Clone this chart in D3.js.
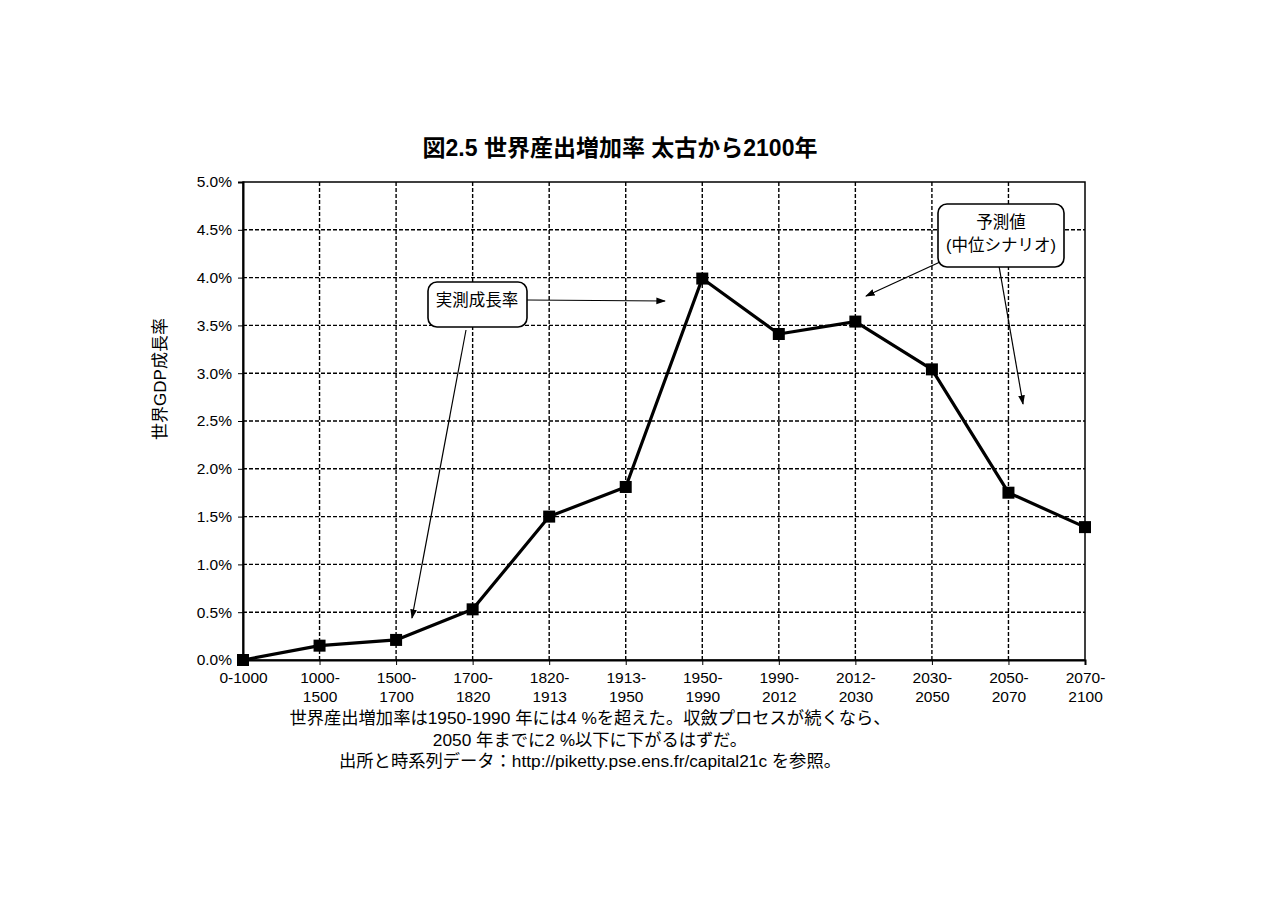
<!DOCTYPE html>
<html>
<head>
<meta charset="utf-8">
<script src="https://cdn.jsdelivr.net/npm/d3@7"></script>
<style>
  body { margin: 0; background: #fff; }
  text { font-family: "Liberation Sans", Arial, "Noto Sans CJK JP", sans-serif; fill: #000; }
</style>
</head>
<body>
<div id="chart-container"></div>
<script>
// data
const periods = ['0-1000', '1000-1500', '1500-1700', '1700-1820', '1820-1913', '1913-1950',
  '1950-1990', '1990-2012', '2012-2030', '2030-2050', '2050-2070', '2070-2100'];
const growth = [0.0, 0.15, 0.21, 0.53, 1.50, 1.81, 3.99, 3.41, 3.54, 3.04, 1.75, 1.39];
const yTicks = [0, 0.5, 1, 1.5, 2, 2.5, 3, 3.5, 4, 4.5, 5];

const title = '図2.5 世界産出増加率 太古から2100年';
const yLabel = '世界GDP成長率';
const notes = [
  '世界産出増加率は1950-1990 年には4 %を超えた。収斂プロセスが続くなら、',
  '2050 年までに2 %以下に下がるはずだ。',
  '出所と時系列データ：http://piketty.pse.ens.fr/capital21c を参照。'
];

const W = 1280, H = 905;
const margin = { top: 182, right: 195, bottom: 245, left: 243 };
const width = W - margin.left - margin.right;
const height = H - margin.top - margin.bottom;

const root = d3.select('#chart-container')
  .append('svg')
  .attr('width', W)
  .attr('height', H);

root.append('defs').append('marker')
  .attr('id', 'arrow')
  .attr('viewBox', '0 0 10 10')
  .attr('refX', 9).attr('refY', 5)
  .attr('markerWidth', 8).attr('markerHeight', 8)
  .attr('orient', 'auto')
  .append('path')
  .attr('d', 'M0,1.5 L10,5 L0,8.5 Z')
  .attr('fill', '#000');

const svg = root.append('g')
  .attr('transform', `translate(${margin.left}, ${margin.top})`);

// scales
const xScale = d3.scalePoint().domain(periods).range([0, width]);
const yScale = d3.scaleLinear().domain([0, 5]).range([height, 0]);

// grid (dashed)
svg.append('g')
  .selectAll('line')
  .data(yTicks.filter(t => t > 0 && t < 5))
  .enter()
  .append('line')
  .attr('x1', 0).attr('x2', width)
  .attr('y1', d => yScale(d)).attr('y2', d => yScale(d))
  .attr('stroke', '#000').attr('stroke-width', 1.4)
  .attr('stroke-dasharray', '4,2');

svg.append('g')
  .selectAll('line')
  .data(periods.slice(1, -1))
  .enter()
  .append('line')
  .attr('x1', d => xScale(d)).attr('x2', d => xScale(d))
  .attr('y1', 0).attr('y2', height)
  .attr('stroke', '#000').attr('stroke-width', 1.4)
  .attr('stroke-dasharray', '4,2');

// frame
svg.append('rect')
  .attr('width', width).attr('height', height)
  .attr('fill', 'none').attr('stroke', '#000').attr('stroke-width', 1.5);

// y axis
const yAxis = svg.append('g')
  .call(d3.axisLeft(yScale).tickValues(yTicks).tickFormat(d => d.toFixed(1) + '%').tickSize(5).tickPadding(6));
yAxis.select('.domain').attr('stroke-width', 2);
yAxis.selectAll('text').style('font-size', '15.5px');

// x axis
const xAxis = svg.append('g')
  .attr('transform', `translate(0, ${height})`)
  .call(d3.axisBottom(xScale).tickSize(5).tickPadding(7));
xAxis.select('.domain').attr('stroke-width', 2);
xAxis.selectAll('text')
  .style('font-size', '15.5px')
  .each(function (d) {
    const t = d3.select(this);
    t.text(null);
    const parts = d === '0-1000' ? [d] : [d.split('-')[0] + '-', d.split('-')[1]];
    parts.forEach((p, i) => {
      t.append('tspan').attr('x', 0).attr('dy', i === 0 ? '0.71em' : '1.2em').text(p);
    });
  });

// line + markers
const line = d3.line()
  .x((d, i) => xScale(periods[i]))
  .y(d => yScale(d));

svg.append('path')
  .datum(growth)
  .attr('d', line)
  .attr('fill', 'none')
  .attr('stroke', '#000')
  .attr('stroke-width', 3.2)
  .attr('stroke-linejoin', 'round');

svg.selectAll('.pt')
  .data(growth)
  .enter()
  .append('rect')
  .attr('class', 'pt')
  .attr('x', (d, i) => xScale(periods[i]) - 6)
  .attr('y', d => yScale(d) - 6)
  .attr('width', 12).attr('height', 12)
  .attr('fill', '#000');

// annotations
function arrow(x1, y1, x2, y2) {
  svg.append('line')
    .attr('x1', x1).attr('y1', y1).attr('x2', x2).attr('y2', y2)
    .attr('stroke', '#000').attr('stroke-width', 1.2)
    .attr('marker-end', 'url(#arrow)');
}

function box(x, y, w, h, lines) {
  svg.append('rect')
    .attr('x', x).attr('y', y).attr('width', w).attr('height', h)
    .attr('rx', 9).attr('ry', 9)
    .attr('fill', '#fff').attr('stroke', '#000').attr('stroke-width', 1.6);
  lines.forEach(l => {
    svg.append('text')
      .attr('x', l.x).attr('y', l.y)
      .attr('text-anchor', 'middle')
      .style('font-size', '16.5px')
      .text(l.t);
  });
}

// 実測成長率 (coordinates relative to plot)
arrow(527 - 243, 300 - 182, 665 - 243, 301 - 182);
arrow(466 - 243, 330 - 182, 412 - 243, 618 - 182);
box(428 - 243, 282 - 182, 99, 45, [{ t: '実測成長率', x: 477 - 243, y: 306 - 182 }]);

// 予測値
arrow(940 - 243, 262 - 182, 866 - 243, 296 - 182);
arrow(999 - 243, 266 - 182, 1023 - 243, 404 - 182);
box(938 - 243, 204 - 182, 126, 63, [
  { t: '予測値', x: 1001 - 243, y: 228 - 182 },
  { t: '(中位シナリオ)', x: 1001 - 243, y: 251 - 182 }
]);

// title
root.append('text')
  .attr('x', 620).attr('y', 156)
  .attr('text-anchor', 'middle')
  .style('font-size', '23px')
  .style('font-weight', 'bold')
  .text(title);

// y label
root.append('text')
  .attr('transform', 'translate(166, 379) rotate(-90)')
  .attr('text-anchor', 'middle')
  .style('font-size', '17px')
  .text(yLabel);

// notes
root.selectAll('.note')
  .data(notes)
  .enter()
  .append('text')
  .attr('class', 'note')
  .attr('x', 590)
  .attr('y', (d, i) => 724 + i * 21.5)
  .attr('text-anchor', 'middle')
  .style('font-size', '17.3px')
  .text(d => d);
</script>
</body>
</html>
